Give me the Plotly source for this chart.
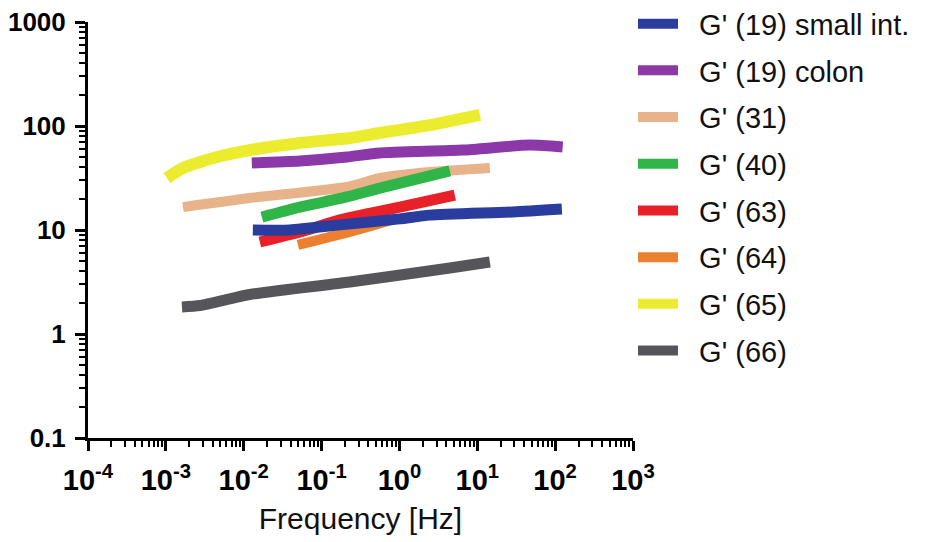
import plotly.graph_objects as go

# Storage modulus G' [Pa] versus frequency [Hz] for each sample
freq_66 = [1.61e-3, 2.75e-3, 0.012, 0.231, 4.44, 14.5]
g_66 = [1.82, 1.88, 2.4, 3.16, 4.31, 4.92]

freq_65 = [1.03e-3, 1.66e-3, 4.53e-3, 0.012, 0.0527, 0.231, 0.56, 2.45, 10.8]
g_65 = [31.6, 39.5, 50.3, 58.7, 68.7, 76.7, 85.7, 102, 128]

freq_19c = [0.0127, 0.0527, 0.211, 0.56, 6.52, 47.2, 125]
g_19c = [44.1, 46.1, 50.3, 55.0, 58.7, 65.6, 62.8]

freq_31 = [1.66e-3, 0.012, 0.211, 0.56, 2.45, 14.5]
g_31 = [16.6, 20.3, 25.9, 31.6, 36.1, 39.5]

freq_40 = [0.0171, 0.0527, 0.211, 0.56, 4.44]
g_40 = [13.3, 16.6, 20.8, 25.3, 37.0]

freq_64 = [0.0497, 0.231, 0.8]
g_64 = [7.18, 9.6, 12.5]

freq_63 = [0.0161, 0.0527, 0.172, 1.01, 5.14]
g_63 = [7.67, 9.57, 12.5, 16.6, 21.7]

freq_19s = [0.0131, 0.039, 0.172, 1.01, 2.45, 28.6, 122]
g_19s = [10.0, 10.0, 11.2, 12.8, 13.9, 14.9, 15.9]

# (name, x, y, colour, width, legend rank) in drawing order
series = [
    ("G' (66)", freq_66, g_66, "#56565a", 11, 8),
    ("G' (65)", freq_65, g_65, "#ecec2e", 12, 7),
    ("G' (19) colon", freq_19c, g_19c, "#8c38a8", 11, 2),
    ("G' (31)", freq_31, g_31, "#e8b38a", 10, 3),
    ("G' (40)", freq_40, g_40, "#2fb548", 11, 4),
    ("G' (64)", freq_64, g_64, "#ec8030", 10, 6),
    ("G' (63)", freq_63, g_63, "#e82028", 11, 5),
    ("G' (19) small int.", freq_19s, g_19s, "#2a3c9e", 11, 1),
]

x_tickvals = [1e-4, 1e-3, 1e-2, 1e-1, 1, 10, 100, 1000]
x_ticktext = ["10<sup>-4</sup>", "10<sup>-3</sup>", "10<sup>-2</sup>", "10<sup>-1</sup>",
              "10<sup>0</sup>", "10<sup>1</sup>", "10<sup>2</sup>", "10<sup>3</sup>"]
y_tickvals = [0.1, 1, 10, 100, 1000]
y_ticktext = ["0.1", "1", "10", "100", "1000"]

FONT = "Liberation Sans, Arial, sans-serif"
PAD = "\u00a0\u00a0"  # gap between legend swatch and label

fig = go.Figure()
for i, (name, x, y, color, width, rank) in enumerate(series):
    fig.add_trace(go.Scatter(
        x=x, y=y, mode="lines", name=PAD + name,
        line=dict(color=color, width=width, shape="spline", smoothing=0.6),
        legendrank=rank, legendgroup=f"g{i}",
    ))

axis_common = dict(
    type="log",
    showgrid=False, zeroline=False,
    showline=True, linecolor="black", linewidth=3,
    ticks="outside", ticklen=10, tickwidth=3, tickcolor="black",
    minor=dict(ticks="outside", ticklen=6, tickwidth=2, tickcolor="black", dtick="D1"),
)

fig.update_xaxes(
    **axis_common,
    range=[-4, 3],
    tickmode="array", tickvals=x_tickvals, ticktext=x_ticktext,
    tickfont=dict(family=FONT, size=29, color="black", weight="bold"),
    ticklabelstandoff=4,
    title=dict(text="Frequency [Hz]", font=dict(family=FONT, size=30, color="#111"), standoff=14),
)
fig.update_yaxes(
    **axis_common,
    range=[-1, 3],
    tickmode="array", tickvals=y_tickvals, ticktext=y_ticktext,
    tickfont=dict(family=FONT, size=26, color="black", weight="bold"),
    ticklabelstandoff=4,
)

fig.update_layout(
    width=928, height=542,
    margin=dict(l=88, r=295, t=22, b=104, autoexpand=False),
    paper_bgcolor="white", plot_bgcolor="white",
    showlegend=True,
    legend=dict(
        x=1.0, xanchor="left", y=1.057, yanchor="top",
        font=dict(family=FONT, size=29, color="#111"),
        traceorder="grouped", tracegroupgap=6,
        itemwidth=40, bgcolor="rgba(0,0,0,0)",
        maxheight=530,
    ),
)

fig.write_html("out.html")
